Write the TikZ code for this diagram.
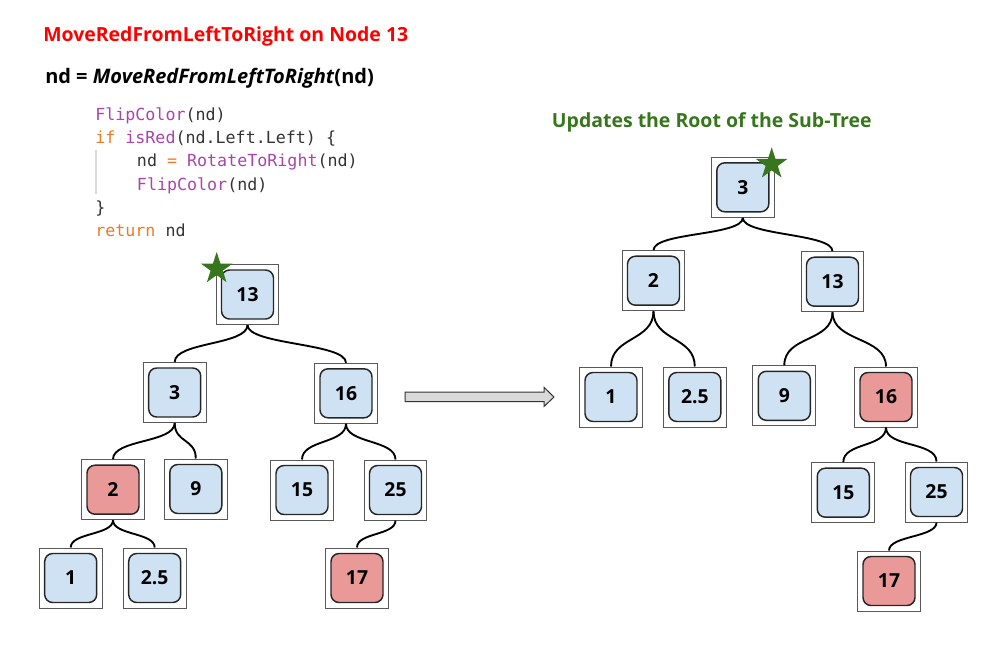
\documentclass[tikz,border=0pt]{standalone}
\usepackage{fontspec}
\setmainfont{Open Sans}
\setmonofont{DejaVu Sans Mono}
\usetikzlibrary{shapes.geometric}
\definecolor{nodeblue}{HTML}{CFE2F3}
\definecolor{nodered}{HTML}{EA9999}
\definecolor{stargreen}{HTML}{38761D}
\definecolor{codepurple}{RGB}{170,68,170}
\definecolor{codeorange}{RGB}{239,122,35}
\definecolor{codegray}{HTML}{333333}
\definecolor{arrowgray}{HTML}{D9D9D9}
\tikzset{
  frame/.style={draw=black!65, line width=0.75pt, fill=white, inner sep=0pt,
    minimum width=47pt, minimum height=45pt},
  bluebox/.style={draw=black!85, line width=1.1pt, rounded corners=6pt, fill=nodeblue,
    inner sep=0pt, minimum width=39pt, minimum height=36.75pt,
    font=\bfseries\fontsize{14.5}{17}\selectfont},
  redbox/.style={bluebox, fill=nodered},
  edge/.style={line width=1.4pt},
  heading/.style={anchor=base west, inner sep=0pt, font=\bfseries\fontsize{14.6}{17}\selectfont},
  codeline/.style={anchor=base west, inner sep=0pt, text=codegray,
    font=\ttfamily\fontsize{12.5}{15}\selectfont},
  markstar/.style={star, star points=5, star point ratio=2.6, fill=stargreen,
    inner sep=0pt, minimum size=25pt}
}
\begin{document}
\begin{tikzpicture}[x=0.75pt,y=-0.75pt]
\useasboundingbox (0,0) rectangle (1008,647);

% headings and code
\node[heading, text=red] (title) at (43,41) {MoveRedFromLeftToRight on Node 13};
\node[heading, font=\bfseries\fontsize{15}{17}\selectfont] (call) at (45,83) {nd = \textit{MoveRedFromLeftToRight}(nd)};
\node[heading, text=stargreen] (result) at (551.7,127.3) {Updates the Root of the Sub-Tree};

\draw[black!15, line width=0.8pt] (96,150) -- (96,194);
\node[codeline] (c1) at (95,120) {\textcolor{codepurple}{FlipColor}(nd)};
\node[codeline] (c2) at (95,143.3) {\textcolor{codeorange}{if} \textcolor{codepurple}{isRed}(nd.Left.Left) \{};
\node[codeline] (c3) at (136.7,166.5) {nd \textcolor{codeorange}{=} \textcolor{codepurple}{RotateToRight}(nd)};
\node[codeline] (c4) at (136.7,190) {\textcolor{codepurple}{FlipColor}(nd)};
\node[codeline] (c5) at (95,213.3) {\}};
\node[codeline] (c6) at (95,236.5) {\textcolor{codeorange}{return} nd};

% left tree (before)
\node[frame] (l13) at (247.5,294.5) {};
\node[bluebox] (l13in) at (l13) {13};
\node[frame] (l3) at (174.7,392.5) {};
\node[bluebox] (l3in) at (l3) {3};
\node[frame] (l16) at (346,393.3) {};
\node[bluebox] (l16in) at (l16) {16};
\node[frame] (l2) at (113,489.7) {};
\node[redbox] (l2in) at (l2) {2};
\node[frame] (l9) at (195.8,489) {};
\node[bluebox] (l9in) at (l9) {9};
\node[frame] (l15) at (302,490) {};
\node[bluebox] (l15in) at (l15) {15};
\node[frame] (l25) at (395.5,490) {};
\node[bluebox] (l25in) at (l25) {25};
\node[frame] (l1) at (70.7,578) {};
\node[bluebox] (l1in) at (l1) {1};
\node[frame] (l2h) at (154.7,578) {};
\node[bluebox] (l2hin) at (l2h) {2.5};
\node[frame] (l17) at (357,578) {};
\node[redbox] (l17in) at (l17) {17};

\draw[edge] (l13.south) .. controls +(0,20) and +(0,-20) .. (l3.north);
\draw[edge] (l13.south) .. controls +(0,20) and +(0,-20) .. (l16.north);
\draw[edge] (l3.south) .. controls +(0,20) and +(0,-20) .. (l2.north);
\draw[edge] (l3.south) .. controls +(0,20) and +(0,-20) .. (l9.north);
\draw[edge] (l16.south) .. controls +(0,20) and +(0,-20) .. (l15.north);
\draw[edge] (l16.south) .. controls +(0,20) and +(0,-20) .. (l25.north);
\draw[edge] (l2.south) .. controls +(0,15) and +(0,-15) .. (l1.north);
\draw[edge] (l2.south) .. controls +(0,15) and +(0,-15) .. (l2h.north);
\draw[edge] (l25.south) .. controls +(0,15) and +(0,-15) .. (l17.north);

\node[markstar] (lstar) at (216.7,268.7) {};

% arrow between the trees
\filldraw[fill=arrowgray, draw=black!80, line width=0.75pt]
  (405,392) -- (544,392) -- (544,387.3) -- (554,397) -- (544,406.5) -- (544,401.7) -- (405,401.7) -- cycle;

% right tree (after)
\node[frame] (r3) at (742.8,187.3) {};
\node[bluebox] (r3in) at (r3) {3};
\node[frame] (r2) at (653.5,280.7) {};
\node[bluebox] (r2in) at (r2) {2};
\node[frame] (r13) at (832.5,281.7) {};
\node[bluebox] (r13in) at (r13) {13};
\node[frame] (r1) at (611,397) {};
\node[bluebox] (r1in) at (r1) {1};
\node[frame] (r2h) at (694.8,397) {};
\node[bluebox] (r2hin) at (r2h) {2.5};
\node[frame] (r9) at (784.3,395.8) {};
\node[bluebox] (r9in) at (r9) {9};
\node[frame] (r16) at (886,397) {};
\node[redbox] (r16in) at (r16) {16};
\node[frame] (r15) at (843.3,492.7) {};
\node[bluebox] (r15in) at (r15) {15};
\node[frame] (r25) at (936.5,492) {};
\node[bluebox] (r25in) at (r25) {25};
\node[frame] (r17) at (889,581) {};
\node[redbox] (r17in) at (r17) {17};

\draw[edge] (r3.south) .. controls +(0,18) and +(0,-18) .. (r2.north);
\draw[edge] (r3.south) .. controls +(0,18) and +(0,-18) .. (r13.north);
\draw[edge] (r2.south) .. controls +(0,30) and +(0,-30) .. (r1.north);
\draw[edge] (r2.south) .. controls +(0,30) and +(0,-30) .. (r2h.north);
\draw[edge] (r13.south) .. controls +(0,30) and +(0,-30) .. (r9.north);
\draw[edge] (r13.south) .. controls +(0,30) and +(0,-30) .. (r16.north);
\draw[edge] (r16.south) .. controls +(0,20) and +(0,-20) .. (r15.north);
\draw[edge] (r16.south) .. controls +(0,20) and +(0,-20) .. (r25.north);
\draw[edge] (r25.south) .. controls +(0,15) and +(0,-15) .. (r17.north);

\node[markstar] (rstar) at (771.7,164) {};
\end{tikzpicture}
\end{document}
